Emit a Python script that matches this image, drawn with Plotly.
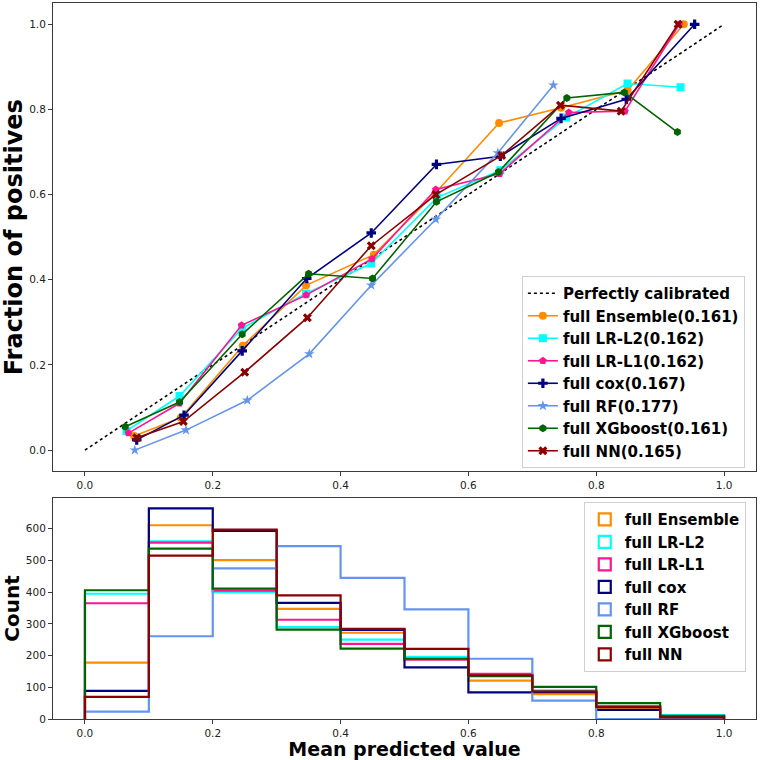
import plotly.graph_objects as go

# ---------------- data ----------------
models = ["full Ensemble", "full LR-L2", "full LR-L1", "full cox", "full RF", "full XGboost", "full NN"]
brier = ["0.161", "0.162", "0.162", "0.167", "0.177", "0.161", "0.165"]
colors = ["#FF8C00", "#00FFFF", "#FF1493", "#000080", "#6495ED", "#006400", "#8B0000"]
symbols = ["circle", "square", "pentagon", "cross", "star", "hexagon", "x"]

# calibration curves: mean predicted value (x) and fraction of positives (y)
ens_x = [0.077, 0.150, 0.247, 0.346, 0.452, 0.549, 0.648, 0.745, 0.849, 0.937]
ens_y = [0.033, 0.076, 0.245, 0.387, 0.459, 0.605, 0.768, 0.804, 0.845, 1.000]
l2_x = [0.065, 0.148, 0.246, 0.346, 0.448, 0.551, 0.650, 0.753, 0.849, 0.932]
l2_y = [0.045, 0.127, 0.286, 0.368, 0.438, 0.593, 0.657, 0.781, 0.861, 0.852]
l1_x = [0.068, 0.148, 0.245, 0.346, 0.449, 0.549, 0.649, 0.757, 0.845, 0.930]
l1_y = [0.040, 0.110, 0.293, 0.364, 0.449, 0.612, 0.649, 0.793, 0.796, 1.000]
cox_x = [0.081, 0.155, 0.246, 0.347, 0.448, 0.550, 0.650, 0.745, 0.847, 0.954]
cox_y = [0.024, 0.082, 0.233, 0.403, 0.510, 0.671, 0.690, 0.779, 0.824, 1.000]
rf_x = [0.078, 0.158, 0.254, 0.351, 0.448, 0.549, 0.646, 0.733]
rf_y = [0.000, 0.047, 0.117, 0.226, 0.387, 0.542, 0.698, 0.857]
xgb_x = [0.063, 0.148, 0.246, 0.350, 0.450, 0.550, 0.647, 0.754, 0.844, 0.927]
xgb_y = [0.055, 0.113, 0.272, 0.414, 0.403, 0.583, 0.653, 0.827, 0.840, 0.747]
nn_x = [0.081, 0.154, 0.250, 0.348, 0.448, 0.549, 0.652, 0.744, 0.839, 0.928]
nn_y = [0.029, 0.067, 0.183, 0.311, 0.480, 0.600, 0.692, 0.810, 0.796, 1.000]

cal_x = [ens_x, l2_x, l1_x, cox_x, rf_x, xgb_x, nn_x]
cal_y = [ens_y, l2_y, l1_y, cox_y, rf_y, xgb_y, nn_y]

# histogram of predicted values (10 bins on [0, 1])
bin_edges = [0.0, 0.1, 0.2, 0.3, 0.4, 0.5, 0.6, 0.7, 0.8, 0.9, 1.0]
ens_cnt = [178, 611, 501, 347, 272, 193, 121, 78, 35, 8]
l2_cnt = [395, 560, 400, 290, 250, 196, 140, 90, 38, 12]
l1_cnt = [365, 556, 405, 313, 237, 187, 142, 85, 40, 8]
cox_cnt = [89, 664, 593, 366, 281, 163, 84, 85, 29, 8]
rf_cnt = [23, 261, 475, 545, 445, 346, 190, 58, 0, 0]
xgb_cnt = [406, 537, 411, 282, 222, 190, 135, 101, 50, 10]
nn_cnt = [70, 515, 597, 390, 284, 221, 138, 87, 38, 5]
counts = [ens_cnt, l2_cnt, l1_cnt, cox_cnt, rf_cnt, xgb_cnt, nn_cnt]

diag = [0.0, 1.0]
x_ticks = [0.0, 0.2, 0.4, 0.6, 0.8, 1.0]
y_ticks_top = [0.0, 0.2, 0.4, 0.6, 0.8, 1.0]
y_ticks_bot = [0, 100, 200, 300, 400, 500, 600]

# ---------------- figure ----------------
FONT = "DejaVu Sans"
fig = go.Figure()

fig.add_trace(go.Scatter(
    x=diag, y=diag, mode="lines", name="Perfectly calibrated",
    line=dict(color="black", width=1.6, dash="dot"),
    xaxis="x", yaxis="y", legend="legend"))

for i, m in enumerate(models):
    fig.add_trace(go.Scatter(
        x=cal_x[i], y=cal_y[i], mode="lines+markers",
        name=f"{m}({brier[i]})",
        line=dict(color=colors[i], width=1.6),
        marker=dict(symbol=symbols[i], size=8, color=colors[i]),
        xaxis="x", yaxis="y", legend="legend"))

# step histograms (outline only)
for i, m in enumerate(models):
    c = counts[i]
    hx = [bin_edges[0]] + bin_edges[:-1] + [bin_edges[-1], bin_edges[-1]]
    hy = [0] + c + [c[-1], 0]
    fig.add_trace(go.Scatter(
        x=hx, y=hy, mode="lines", name=m, showlegend=False,
        line=dict(color=colors[i], width=2.2, shape="hv"),
        xaxis="x2", yaxis="y2"))

# legend patches for the histograms (outlined rectangles)
for i, m in enumerate(models):
    fig.add_trace(go.Bar(
        x=[None], y=[None], name=m, showlegend=True,
        marker=dict(color="rgba(0,0,0,0)", line=dict(color=colors[i], width=2.2)),
        xaxis="x2", yaxis="y2", legend="legend2"))

axis_common = dict(
    showgrid=False, zeroline=False, showline=True, mirror=True, automargin=False,
    linecolor="#3a3a3a", linewidth=1, ticks="outside", ticklen=4,
    tickcolor="#3a3a3a", tickfont=dict(family=FONT, size=10.5, color="#222"),
)

fig.update_layout(
    width=760, height=760,
    margin=dict(l=53, r=4, t=3, b=41),
    paper_bgcolor="white", plot_bgcolor="white",
    xaxis=dict(domain=[0, 1], anchor="y", range=[-0.05, 1.05],
               tickvals=x_ticks, tickformat=".1f", **axis_common),
    yaxis=dict(domain=[0.3458, 1], anchor="x", range=[-0.05, 1.05],
               tickvals=y_ticks_top, tickformat=".1f",
               title=dict(text="Fraction of positives",
                          font=dict(family=FONT, size=24, weight="bold", color="black"),
                          standoff=6),
               **axis_common),
    xaxis2=dict(domain=[0, 1], anchor="y2", range=[-0.05, 1.05],
                tickvals=x_ticks, tickformat=".1f",
                title=dict(text="Mean predicted value",
                           font=dict(family=FONT, size=19, weight="bold", color="black"),
                           standoff=0),
                **axis_common),
    yaxis2=dict(domain=[0, 0.3087], anchor="x2", range=[0, 697],
                tickvals=y_ticks_bot,
                title=dict(text="Count",
                           font=dict(family=FONT, size=20, weight="bold", color="black"),
                           standoff=8),
                **axis_common),
    legend=dict(x=0.667, y=0.6187, xanchor="left", yanchor="top",
                bgcolor="rgba(255,255,255,0.85)", bordercolor="#d0d0d0", borderwidth=1,
                font=dict(family=FONT, size=15, weight="bold", color="black")),
    legend2=dict(x=0.755, y=0.303, xanchor="left", yanchor="top", tracegroupgap=0,
                 bgcolor="rgba(255,255,255,0.85)", bordercolor="#d0d0d0", borderwidth=1,
                 font=dict(family=FONT, size=15, weight="bold", color="black")),
    showlegend=True,
)

fig.write_html("out.html",
               config={"displayModeBar": False},
               post_script="document.body.style.margin='0';document.body.style.overflow='hidden';")
